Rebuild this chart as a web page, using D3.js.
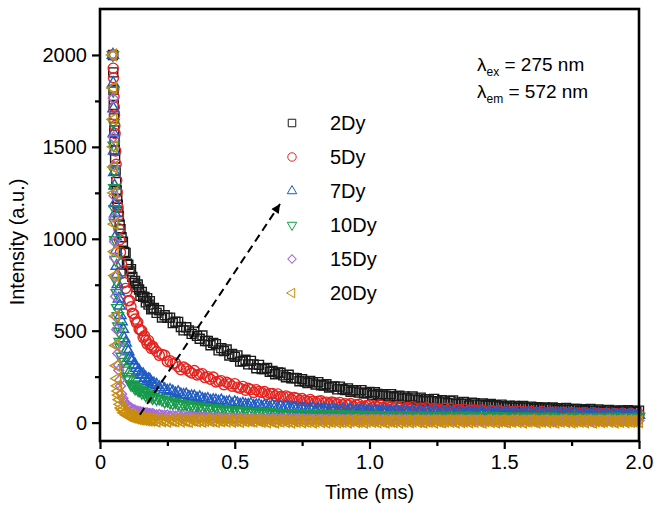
<!DOCTYPE html>
<html>
<head>
<meta charset="utf-8">
<script src="https://cdn.jsdelivr.net/npm/d3@7"></script>
<style>
  body { margin: 0; background: #fff; }
  svg text { font-family: "Liberation Sans", Arial, Helvetica, sans-serif; fill: #000; }
</style>
</head>
<body>
<svg id="decay_chart"></svg>
<script>
// time axis of the decay curves (ms), shared by every sample
var timeMs = [0.048,0.049,0.050,0.051,0.052,0.053,0.054,0.055,0.056,0.058,0.060,0.062,0.064,0.066,0.068,0.070,0.073,0.076,0.080,
  0.085,0.090,0.095,0.100,0.105,0.110,0.115,0.120,0.125,0.130,0.135,0.140,0.145,0.150,0.155,0.160,0.165,0.170,0.175,0.180,0.185,0.190,0.195,
  0.20,0.21,0.22,0.23,0.24,0.25,0.26,0.27,0.28,0.29,0.30,
  0.31,0.32,0.33,0.34,0.35,0.36,0.37,0.38,0.39,0.40,
  0.41,0.42,0.43,0.44,0.45,0.46,0.47,0.48,0.49,0.50,
  0.51,0.52,0.53,0.54,0.55,0.56,0.57,0.58,0.59,0.60,
  0.61,0.62,0.63,0.64,0.65,0.66,0.67,0.68,0.69,0.70,
  0.71,0.72,0.73,0.74,0.75,0.76,0.77,0.78,0.79,0.80,
  0.81,0.82,0.83,0.84,0.85,0.86,0.87,0.88,0.89,0.90,
  0.91,0.92,0.93,0.94,0.95,0.96,0.97,0.98,0.99,1.00,
  1.01,1.02,1.03,1.04,1.05,1.06,1.07,1.08,1.09,1.10,
  1.11,1.12,1.13,1.14,1.15,1.16,1.17,1.18,1.19,1.20,
  1.21,1.22,1.23,1.24,1.25,1.26,1.27,1.28,1.29,1.30,
  1.31,1.32,1.33,1.34,1.35,1.36,1.37,1.38,1.39,1.40,
  1.41,1.42,1.43,1.44,1.45,1.46,1.47,1.48,1.49,1.50,
  1.51,1.52,1.53,1.54,1.55,1.56,1.57,1.58,1.59,1.60,
  1.61,1.62,1.63,1.64,1.65,1.66,1.67,1.68,1.69,1.70,
  1.71,1.72,1.73,1.74,1.75,1.76,1.77,1.78,1.79,1.80,
  1.81,1.82,1.83,1.84,1.85,1.86,1.87,1.88,1.89,1.90,
  1.91,1.92,1.93,1.94,1.95,1.96,1.97,1.98,1.99,2.00];

var dy2 = [2000,1905,1810,1728,1655,1590,1528,1482,1437,1372,1308,1262,1218,1186,1148,1121,1077,1052,1008,
  984,929,923,864,859,823,835,793,760,770,738,751,724,690,711,684,684,654,677,642,661,616,620,
  624,597,611,572,584,570,571,541,549,548,520,
  502,519,502,483,495,472,456,474,444,444,
  421,434,427,393,405,389,398,365,374,358,
  366,332,334,342,317,336,317,296,314,292,
  292,297,277,281,263,273,271,257,247,260,
  241,243,242,225,236,223,215,226,219,207,
  220,203,202,209,191,196,197,181,196,183,
  177,186,168,176,176,164,177,160,160,167,
  149,165,156,146,154,147,143,155,138,144,
  147,131,142,133,125,142,132,123,136,116,
  128,126,116,129,116,110,122,114,105,117,
  121,101,110,103,113,102,93,109,105,98,
  95,104,92,97,101,90,95,89,98,84,
  88,92,81,91,87,81,90,82,79,87,
  75,84,81,72,82,78,76,82,69,77,
  78,69,80,70,71,75,74,63,73,70,
  63,74,65,63,72,65,59,67,69,60,
  64,57,66,65,59,68,56,64,58,65];

var dy5 = [2000,1928,1876,1815,1772,1716,1674,1615,1573,1478,1405,1318,1254,1176,1124,1055,994,926,864,
  825,762,730,714,663,664,630,595,591,563,543,546,508,505,500,464,472,448,428,447,424,404,416,
  403,387,366,371,366,333,336,320,324,304,288,
  302,293,280,270,283,259,263,266,245,250,
  236,248,221,225,228,206,219,211,198,212,
  193,187,197,176,187,180,164,179,169,164,
  169,153,159,158,145,156,142,141,145,140,
  127,137,132,121,131,121,116,126,116,110,
  116,119,107,111,101,112,108,102,110,96,
  103,97,104,88,97,100,87,89,93,96,
  82,90,86,95,82,79,89,85,80,88,
  79,88,74,82,74,86,76,70,79,72,
  81,76,66,78,70,74,65,78,67,78,
  63,67,72,63,73,59,68,66,70,59,
  66,69,61,58,66,63,58,66,59,56,
  65,57,60,54,61,62,51,59,55,61,
  51,57,54,60,49,52,57,50,58,53,
  47,56,49,50,55,46,52,44,52,54,
  47,44,54,45,48,49,42,51,44,41,
  49,47,41,51,42,43,49,40,44,46];

var dy7 = [2000,1846,1708,1574,1478,1362,1288,1193,1137,1012,938,852,806,752,716,674,636,584,550,
  509,458,434,399,386,351,341,336,312,315,297,277,283,264,259,262,241,244,225,235,233,218,208,
  212,205,191,193,181,172,176,169,158,164,152,
  149,152,140,142,141,130,137,128,125,128,
  117,121,120,112,120,109,108,112,100,110,
  104,97,102,97,95,100,90,94,95,85,
  91,87,83,91,85,81,87,77,83,81,
  77,82,76,73,78,75,70,75,77,68,
  72,68,72,68,63,71,69,66,63,70,
  62,65,68,62,64,61,67,58,61,64,
  56,62,61,57,63,58,56,61,54,60,
  57,52,59,56,55,60,51,56,57,52,
  59,52,53,56,55,48,55,53,49,56,
  50,48,55,51,46,51,53,48,49,45,
  52,51,47,53,45,50,47,51,42,48,
  50,43,44,47,48,41,46,44,50,43,
  40,47,44,42,46,42,47,39,44,40,
  47,42,38,44,40,46,41,36,44,40,
  42,38,44,38,45,36,39,42,36,43,
  34,40,39,42,35,40,42,37,34,41];

var dy10 = [2000,1806,1632,1508,1372,1276,1162,1088,994,886,772,706,624,580,524,496,440,410,360,
  332,297,284,250,239,231,207,208,199,187,194,181,175,181,164,169,163,150,160,151,146,151,135,
  141,129,132,125,116,120,110,106,111,102,96,
  99,99,90,91,83,89,86,80,85,76,
  80,74,79,67,72,74,64,65,68,69,
  59,64,60,66,57,55,61,58,54,60,
  54,51,58,53,49,53,54,48,50,45,
  52,50,47,52,44,48,46,49,40,46,
  48,41,42,44,46,39,43,41,47,39,
  37,44,40,38,43,39,43,35,40,36,
  43,38,34,40,36,41,37,32,40,36,
  37,33,40,34,41,31,34,37,32,39,
  30,36,34,37,31,36,38,33,30,36,
  35,32,29,38,33,30,37,27,34,33,
  30,36,31,29,35,32,28,33,36,27,
  32,29,34,30,26,34,33,29,27,34,
  27,30,34,28,31,28,35,26,30,32,
  25,31,30,26,33,28,27,32,25,31,
  29,24,31,28,27,32,24,29,30,25,
  33,26,28,31,30,23,31,29,25,32];

var dy15 = [2000,1764,1552,1396,1234,1116,984,896,794,686,574,506,424,376,314,285,230,199,156,
  133,112,106,93,90,80,80,71,70,68,60,62,57,59,54,56,50,52,52,47,49,46,48,
  46,41,44,40,40,41,36,38,35,37,33,
  35,30,32,31,32,27,30,27,30,26,
  29,24,27,25,24,27,22,25,23,24,
  21,24,21,23,20,23,20,22,22,19,
  21,19,20,22,18,20,19,21,18,20,
  19,21,18,19,20,17,19,20,18,19,
  17,19,18,16,19,17,18,16,18,17,
  16,18,17,15,17,18,16,17,15,17,
  16,15,17,16,14,16,17,15,16,14,
  15,16,14,16,15,13,15,16,14,15,
  14,15,13,15,14,16,13,14,15,13,
  14,13,15,13,14,12,14,15,13,14,
  13,14,12,14,13,12,14,13,12,14,
  13,12,14,12,13,11,13,14,12,13,
  12,13,11,13,12,14,11,12,13,11,
  12,13,11,12,13,11,12,14,11,12,
  13,11,12,13,11,12,10,12,13,11,
  12,11,13,11,12,10,12,13,11,12];

var dy20 = [2000,1820,1650,1500,1390,1250,1080,930,800,580,420,310,240,200,172,150,125,100,80,
  69,53,52,41,43,34,37,30,33,25,29,22,26,19,24,17,22,15,21,14,19,13,18,
  14,8,16,10,13,7,15,11,9,17,8,
  13,10,6,15,12,9,14,7,12,16,
  9,11,6,14,10,13,8,15,7,11,
  12,6,14,9,13,10,8,15,11,7,
  10,4,12,7,3,11,8,13,5,9,
  2,10,7,12,4,9,6,11,3,8,
  13,5,10,2,9,7,12,4,8,6,
  11,3,9,13,5,7,10,2,8,12,
  6,9,4,11,7,3,10,8,5,12,
  2,9,6,11,4,8,13,5,7,3,
  10,6,9,2,11,7,4,8,12,6,
  9,3,12,5,8,11,4,10,6,13,
  7,2,9,12,5,10,3,8,11,6,
  4,11,7,13,5,9,2,10,8,12,
  6,3,10,8,12,4,9,7,2,11,
  8,13,5,10,3,7,11,6,9,4,
  12,7,2,9,11,5,8,13,6,10,
  3,9,7,12,4,10,6,8,11,5];

var seriesNames = ["2Dy", "5Dy", "7Dy", "10Dy", "15Dy", "20Dy"];
var seriesValues = [dy2, dy5, dy7, dy10, dy15, dy20];

var xTicks = [0, 0.5, 1.0, 1.5, 2.0];
var xMinorTicks = [0.25, 0.75, 1.25, 1.75];
var yTicks = [0, 500, 1000, 1500, 2000];
var yMinorTicks = [250, 750, 1250, 1750];

// dashed arrow, in data units (time ms, intensity)
var arrowFrom = [0.148, 43];
var arrowTo = [0.668, 1189];

// Define dimensions for the svg canvas
var width = 654;
var height = 506;
var margin = {"top": 9, "bottom": 65, "left": 100, "right": 15};

var colors = ["#1a1a1a", "#e5231f", "#1f5cc4", "#179a4a", "#a66bd8", "#c98e0b"];
var markers = [
  {"type": d3.symbolSquare, "size": 81, "rotate": 0},
  {"type": d3.symbolCircle, "size": 80, "rotate": 0},
  {"type": d3.symbolTriangle, "size": 55, "rotate": 0},
  {"type": d3.symbolTriangle, "size": 55, "rotate": 180},
  {"type": d3.symbolSquare, "size": 50, "rotate": 45},
  {"type": d3.symbolTriangle, "size": 55, "rotate": -90}
];

var svg = d3.select("svg#decay_chart")
  .attr("width", width)
  .attr("height", height);

var xScale = d3.scaleLinear()
  .domain([0, 2])
  .range([margin.left, width - margin.right]);

var yScale = d3.scaleLinear()
  .domain([-100, 2250])
  .range([height - margin.bottom, margin.top]);

// data points, 2Dy at the bottom, 20Dy on top
seriesValues.forEach(function(values, s) {
  var m = markers[s];
  var symbol = d3.symbol().type(m.type).size(m.size);
  var pts = timeMs.map(function(t, i) { return [t, values[i]]; })
    .filter(function(d) { return d[1] !== undefined; });
  svg.append("g")
    .attr("class", "series")
    .selectAll("path")
    .data(pts)
    .enter()
    .append("path")
    .attr("transform", function(d) {
      return "translate(" + xScale(d[0]) + "," + yScale(d[1]) + ") rotate(" + m.rotate + ")";
    })
    .attr("d", symbol)
    .attr("fill", "none")
    .attr("stroke", colors[s])
    .attr("stroke-width", 1.4);
});

// axes
var axisFont = 20;
var xAxis = d3.axisBottom(xScale)
  .tickValues(xTicks)
  .tickSize(8)
  .tickPadding(6)
  .tickSizeOuter(0)
  .tickFormat(function(d) { return d === 0 ? "0" : d3.format(".1f")(d); });

var xMinor = d3.axisBottom(xScale).tickValues(xMinorTicks).tickSize(5).tickFormat("").tickSizeOuter(0);

var yAxis = d3.axisLeft(yScale)
  .tickValues(yTicks)
  .tickSize(8)
  .tickPadding(5)
  .tickSizeOuter(0)
  .tickFormat(d3.format("d"));

var yMinor = d3.axisLeft(yScale).tickValues(yMinorTicks).tickSize(5).tickFormat("").tickSizeOuter(0);

[[xAxis, "translate(0," + (height - margin.bottom) + ")"],
 [xMinor, "translate(0," + (height - margin.bottom) + ")"],
 [yAxis, "translate(" + margin.left + ",0)"],
 [yMinor, "translate(" + margin.left + ",0)"]].forEach(function(a) {
  var g = svg.append("g").attr("transform", a[1]).call(a[0]);
  g.select(".domain").remove();
  g.selectAll(".tick line").attr("stroke", "#000").attr("stroke-width", 2.2);
  g.selectAll(".tick text").style("font-size", axisFont + "px").attr("fill", "#000");
});

// frame
svg.append("rect")
  .attr("x", xScale(0))
  .attr("y", yScale(2250))
  .attr("width", xScale(2) - xScale(0))
  .attr("height", yScale(-100) - yScale(2250))
  .attr("fill", "none")
  .attr("stroke", "#000")
  .attr("stroke-width", 2.6);

// axis titles
svg.append("text")
  .attr("x", (xScale(0) + xScale(2)) / 2)
  .attr("y", 499)
  .style("text-anchor", "middle")
  .style("font-size", axisFont + "px")
  .text("Time (ms)");

svg.append("text")
  .attr("transform", "translate(24," + 242 + ") rotate(-90)")
  .style("text-anchor", "middle")
  .style("font-size", axisFont + "px")
  .text("Intensity (a.u.)");

// dashed arrow
svg.append("defs").append("marker")
  .attr("id", "arrowhead")
  .attr("viewBox", "0 0 10 10")
  .attr("refX", 10)
  .attr("refY", 5)
  .attr("markerWidth", 12)
  .attr("markerHeight", 9)
  .attr("markerUnits", "userSpaceOnUse")
  .attr("orient", "auto")
  .append("path")
  .attr("d", "M0,0L10,5L0,10z")
  .attr("fill", "#000");

svg.append("line")
  .attr("x1", xScale(arrowFrom[0]))
  .attr("y1", yScale(arrowFrom[1]))
  .attr("x2", xScale(arrowTo[0]))
  .attr("y2", yScale(arrowTo[1]))
  .attr("stroke", "#000")
  .attr("stroke-width", 2)
  .attr("stroke-dasharray", "8,5")
  .attr("marker-end", "url(#arrowhead)");

// legend
var legend = svg.append("g")
  .attr("class", "legend")
  .attr("transform", "translate(292,123)");

var legend_el = legend.selectAll("g.legend_el")
  .data(seriesNames)
  .enter()
  .append("g")
  .attr("class", "legend_el")
  .attr("transform", function(d, i) { return "translate(0," + i * 34 + ")"; });

legend_el.append("path")
  .attr("d", function(d, i) { return d3.symbol().type(markers[i].type).size(markers[i].size * 0.7)(); })
  .attr("transform", function(d, i) { return "rotate(" + markers[i].rotate + ")"; })
  .attr("fill", "none")
  .attr("stroke", function(d, i) { return colors[i]; })
  .attr("stroke-width", 1);

legend_el.append("text")
  .attr("x", 38)
  .attr("y", 7)
  .style("font-size", "20px")
  .text(function(d) { return d; });

// excitation / emission note
var note = svg.append("g").attr("class", "note");
[["ex", "275"], ["em", "572"]].forEach(function(n, i) {
  var t = note.append("text")
    .attr("x", 477)
    .attr("y", 71 + i * 27)
    .style("font-size", "19px");
  t.append("tspan").text("\u03bb");
  t.append("tspan").attr("dy", 5).style("font-size", "12px").text(n[0]);
  t.append("tspan").attr("dy", -5).text(" = " + n[1] + " nm");
});
</script>
</body>
</html>
